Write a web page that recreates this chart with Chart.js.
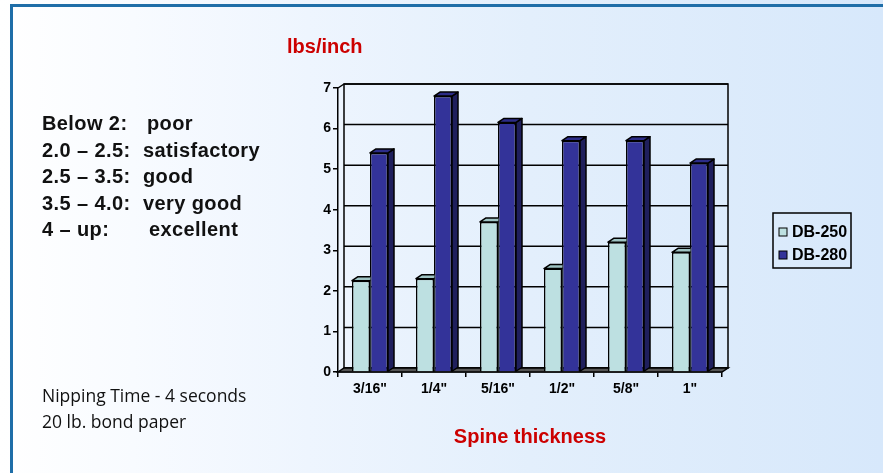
<!DOCTYPE html>
<html><head><meta charset="utf-8">
<script src="https://cdn.jsdelivr.net/npm/chart.js@4.4.1/dist/chart.umd.min.js"></script>
<style>
html,body{margin:0;padding:0;}
body{width:883px;height:473px;overflow:hidden;position:relative;
 background:linear-gradient(to right,#ffffff 0%,#f8fbff 15%,#eef5fe 35%,#e3effc 60%,#d7e8fb 100%);
 font-family:"Liberation Sans",Arial,sans-serif;}
#frameTop{position:absolute;left:10px;top:4px;right:0;height:3px;background:#1f6ea8;}
#frameLeft{position:absolute;left:10px;top:4px;bottom:0;width:3px;background:#1f6ea8;}
#c{position:absolute;left:0;top:0;}
.t{position:absolute;white-space:nowrap;line-height:20px;}
.b{font-weight:bold;font-size:20px;color:#111;letter-spacing:0.4px;}
.n{font-family:"Open Sans",Lato,sans-serif;font-size:17.5px;color:#111;}
.red{color:#cc0000;font-weight:bold;font-size:20px;}
</style></head>
<body>
<div id="frameTop"></div><div id="frameLeft"></div>
<canvas id="c" width="883" height="473"></canvas>
<div class="t red" style="left:287px;top:36px;">lbs/inch</div>
<div class="t b" style="left:42px;top:113px;">Below 2:</div><div class="t b" style="left:147px;top:113px;">poor</div>
<div class="t b" style="left:42px;top:140px;">2.0 – 2.5:</div><div class="t b" style="left:143px;top:140px;">satisfactory</div>
<div class="t b" style="left:42px;top:166px;">2.5 – 3.5:</div><div class="t b" style="left:143px;top:166px;">good</div>
<div class="t b" style="left:42px;top:193px;">3.5 – 4.0:</div><div class="t b" style="left:143px;top:193px;">very good</div>
<div class="t b" style="left:42px;top:219px;">4 – up:</div><div class="t b" style="left:149px;top:219px;">excellent</div>
<div class="t n" style="left:42px;top:385px;">Nipping Time - 4 seconds</div>
<div class="t n" style="left:42px;top:411px;">20 lb. bond paper</div>
<script>
const categories = ['3/16"', '1/4"', '5/16"', '1/2"', '5/8"', '1"'];
const seriesNames = ['DB-250', 'DB-280'];
const db250 = [2.25, 2.3, 3.7, 2.55, 3.2, 2.95];
const db280 = [5.4, 6.8, 6.15, 5.7, 5.7, 5.15];
const yTicks = [0, 1, 2, 3, 4, 5, 6, 7];

const DX = 6, DY = 4;

function poly(ctx, pts, fill) {
  ctx.beginPath();
  ctx.moveTo(pts[0][0], pts[0][1]);
  for (let i = 1; i < pts.length; i++) ctx.lineTo(pts[i][0], pts[i][1]);
  ctx.closePath();
  ctx.fillStyle = fill; ctx.fill(); ctx.stroke();
}

const wall3d = {
  id: 'wall3d',
  beforeDatasetsDraw(chart) {
    const {ctx, chartArea: {left, right, top, bottom}, scales: {y}} = chart;
    ctx.save();
    ctx.strokeStyle = '#000'; ctx.lineWidth = 1.5;
    yTicks.forEach(v => {
      const py = y.getPixelForValue(v) - DY;
      ctx.beginPath(); ctx.moveTo(left + DX, py); ctx.lineTo(right + DX, py); ctx.stroke();
    });
    ctx.strokeRect(left + DX, top - DY, right - left, bottom - top);
    ctx.beginPath(); ctx.moveTo(left, top); ctx.lineTo(left + DX, top - DY); ctx.stroke();
    poly(ctx, [[left, bottom], [right, bottom], [right + DX, bottom - DY], [left + DX, bottom - DY]], '#555555');
    ctx.restore();
  },
  afterDatasetsDraw(chart) {
    const ctx = chart.ctx;
    chart.data.datasets.forEach((ds, i) => {
      const meta = chart.getDatasetMeta(i);
      meta.data.forEach(bar => {
        const {x, y, base, width} = bar.getProps(['x', 'y', 'base', 'width'], true);
        const l = x - width / 2, r = x + width / 2;
        ctx.save();
        ctx.lineWidth = 1.5; ctx.strokeStyle = '#000'; ctx.lineJoin = 'round';
        if (ds.clip3d) { ctx.beginPath(); ctx.rect(0, 0, r + 0.5, chart.height); ctx.clip(); }
        poly(ctx, [[r, y], [r + DX, y - DY], [r + DX, base - DY], [r, base]], ds.sideColor);
        poly(ctx, [[l, y], [l + DX, y - DY], [r + DX, y - DY], [r, y]], ds.topColor);
        ctx.restore();
      });
    });
  }
};

const boxLegend = {
  id: 'boxLegend',
  afterDraw(chart) {
    const ctx = chart.ctx;
    const lx = 773, ly = 213, lw = 78, lh = 55;
    ctx.save();
    ctx.strokeStyle = '#000'; ctx.lineWidth = 1.5;
    ctx.strokeRect(lx, ly, lw, lh);
    ctx.font = 'bold 16px "Liberation Sans", Arial, sans-serif';
    ctx.textBaseline = 'middle'; ctx.textAlign = 'left';
    chart.data.datasets.forEach((ds, i) => {
      const cy = ly + 19 + i * 23;
      ctx.fillStyle = ds.backgroundColor;
      ctx.lineWidth = 1;
      ctx.fillRect(lx + 6, cy - 4, 8, 8);
      ctx.strokeRect(lx + 6, cy - 4, 8, 8);
      ctx.fillStyle = '#000';
      ctx.fillText(ds.label, lx + 19, cy + 1);
    });
    ctx.restore();
  }
};

new Chart(document.getElementById('c'), {
  type: 'bar',
  data: {
    labels: categories,
    datasets: [
      {label: seriesNames[0], data: db250, backgroundColor: '#bde0e1', borderColor: '#000', borderWidth: 1.5,
       topColor: '#9ec3c3', sideColor: '#86a8a8', clip3d: true},
      {label: seriesNames[1], data: db280, backgroundColor: '#333399', borderColor: '#000', borderWidth: 1.5,
       topColor: '#2c2c88', sideColor: '#1f1f5c', clip3d: false}
    ]
  },
  options: {
    responsive: false,
    animation: false,
    devicePixelRatio: 1,
    layout: {padding: {left: 308, right: 161, top: 88, bottom: 0}},
    datasets: {bar: {categoryPercentage: 0.5625, barPercentage: 1}},
    plugins: {legend: {display: false}, tooltip: {enabled: false}},
    scales: {
      x: {
        afterFit: s => { s.height = 101; },
        grid: {offset: true, drawOnChartArea: false, drawTicks: true, tickLength: 5, color: '#000', lineWidth: 1.5},
        border: {display: true, color: '#000', width: 1.5},
        ticks: {color: '#000', padding: 4, font: {family: '"Liberation Sans", Arial, sans-serif', size: 14, weight: 'bold'}},
        title: {display: true, text: 'Spine thickness', color: '#cc0000', padding: {top: 0, bottom: 24},
                font: {family: '"Liberation Sans", Arial, sans-serif', size: 20, weight: 'bold'}}
      },
      y: {
        min: 0, max: 7,
        afterFit: s => { s.width = 30; },
        afterBuildTicks: s => { s.ticks = yTicks.map(v => ({value: v})); },
        grid: {drawOnChartArea: false, drawTicks: true, tickLength: 5, color: '#000', lineWidth: 1.5},
        border: {display: true, color: '#000', width: 1.5},
        ticks: {color: '#000', padding: 2, font: {family: '"Liberation Sans", Arial, sans-serif', size: 14, weight: 'bold'}}
      }
    }
  },
  plugins: [wall3d, boxLegend]
});
</script>
</body></html>
